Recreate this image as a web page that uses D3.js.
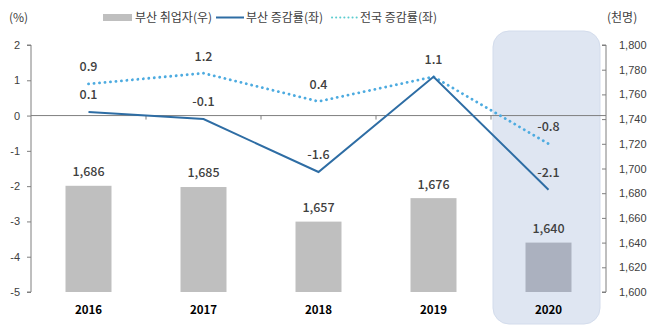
<!DOCTYPE html>
<html><head><meta charset="utf-8">
<script src="https://cdn.jsdelivr.net/npm/d3@7"></script>
<style>body{margin:0;background:#fff}svg{display:block;font-family:"Noto Sans CJK KR","Open Sans",sans-serif}</style>
</head><body>
<script>
const years = ["2016","2017","2018","2019","2020"];
const employed = [1686,1685,1657,1676,1640];
const busanRate = [0.1,-0.1,-1.6,1.1,-2.1];
const nationRate = [0.9,1.2,0.4,1.1,-0.8];
const leftTicks = [2,1,0,-1,-2,-3,-4,-5];
const rightTicks = [1800,1780,1760,1740,1720,1700,1680,1660,1640,1620,1600];
const legendLabels = ["부산 취업자(우)","부산 증감률(좌)","전국 증감률(좌)"];
const highlightYear = "2020";

const W=658,H=327;
const svg=d3.select("body").append("svg").attr("width",W).attr("height",H);
const L=31,R=606,T=45,B=292;
const x=d3.scaleBand().domain(years).range([L,R]).paddingInner(0.6).paddingOuter(0.3);
const xs=d3.scaleBand().domain(years).range([L,R]);
const yL=d3.scaleLinear().domain([-5,2]).range([B,T]);
const yR=d3.scaleLinear().domain([1600,1800]).range([B,T]);
const cx=d=>xs(d)+xs.bandwidth()/2;

// highlight
svg.append("rect").attr("x",xs(highlightYear)+2).attr("y",31).attr("width",xs.bandwidth()-8).attr("height",293)
  .attr("rx",16).attr("fill","#dfe6f2").attr("stroke","#d3dcec").attr("stroke-width",1);

// bars
svg.selectAll(".bar").data(years).join("rect")
  .attr("x",d=>x(d)).attr("width",x.bandwidth())
  .attr("y",(d,i)=>yR(employed[i])).attr("height",(d,i)=>yR(1600)-yR(employed[i]))
  .attr("fill",d=>d===highlightYear?"#abb1bf":"#bfbfbf");

// zero line with tick marks
svg.append("line").attr("x1",L).attr("x2",R).attr("y1",yL(0)).attr("y2",yL(0)).attr("stroke","#7f7f7f").attr("stroke-width",1);
svg.selectAll(".zt").data(years.slice(1)).join("line")
  .attr("x1",d=>xs(d)).attr("x2",d=>xs(d)).attr("y1",yL(0)).attr("y2",yL(0)+4).attr("stroke","#7f7f7f");

// left axis
const ga=svg.append("g").attr("transform",`translate(${L},0)`)
  .call(d3.axisLeft(yL).tickValues(leftTicks).tickSize(4).tickPadding(7).tickFormat(d=>String(d)));
ga.select(".domain").attr("stroke","#7f7f7f").attr("d",`M-4,${T}H0V${B}H-4`);
ga.selectAll(".tick line").attr("stroke","#7f7f7f");
ga.selectAll("text").attr("fill","#404040").attr("font-size",11);

// right axis
const gr=svg.append("g").attr("transform",`translate(${R},0)`)
  .call(d3.axisRight(yR).tickValues(rightTicks).tickSize(-4).tickPadding(13).tickFormat(d3.format(",")));
gr.select(".domain").attr("stroke","#7f7f7f").attr("d",`M-4,${T}H0V${B}H-4`);
gr.selectAll(".tick line").attr("stroke","#7f7f7f");
gr.selectAll("text").attr("fill","#404040").attr("font-size",11);

// lines
const lineB=d3.line().x((d,i)=>cx(years[i])).y(d=>yL(d));
svg.append("path").attr("d",lineB(nationRate)).attr("fill","none").attr("stroke","#4dabe0")
  .attr("stroke-width",2.8).attr("stroke-dasharray","0.1,5.4").attr("stroke-linecap","round");
svg.append("path").attr("d",lineB(busanRate)).attr("fill","none").attr("stroke","#2e6da4").attr("stroke-width",2);

// labels
const lab=svg.append("g").attr("font-size",12.5).attr("font-weight",500).attr("fill","#404040").attr("text-anchor","middle");
busanRate.forEach((v,i)=>{
  lab.append("text").attr("x",cx(years[i])).attr("y",yL(v)-17).attr("dy","0.35em").text(v.toFixed(1));
});
nationRate.forEach((v,i)=>{
  if(v===busanRate[i]) return;
  lab.append("text").attr("x",cx(years[i])).attr("y",yL(v)-17).attr("dy","0.35em").text(v.toFixed(1));
});
employed.forEach((v,i)=>{
  lab.append("text").attr("x",cx(years[i])).attr("y",yR(v)-14).attr("dy","0.35em").text(d3.format(",")(v));
});
svg.append("g").attr("font-size",11.5).attr("font-weight",700).attr("fill","#000").attr("text-anchor","middle")
  .selectAll("text").data(years).join("text").attr("x",d=>cx(d)).attr("y",310).attr("dy","0.35em").text(d=>d);

// legend + units
const lg=svg.append("g").attr("font-size",12).attr("fill","#404040");
lg.append("text").attr("x",9).attr("y",22).text("(%)");
lg.append("text").attr("x",607).attr("y",22).text("(천명)");
lg.append("rect").attr("x",103).attr("y",14).attr("width",29).attr("height",7).attr("fill","#bfbfbf");
lg.append("text").attr("x",135).attr("y",22).text(legendLabels[0]);
lg.append("line").attr("x1",216).attr("x2",244).attr("y1",17.5).attr("y2",17.5).attr("stroke","#2e6da4").attr("stroke-width",2);
lg.append("text").attr("x",246).attr("y",22).text(legendLabels[1]);
lg.append("line").attr("x1",332).attr("x2",357).attr("y1",17.5).attr("y2",17.5).attr("stroke","#5ccccf").attr("stroke-width",2)
  .attr("stroke-dasharray","0.1,4").attr("stroke-linecap","round");
lg.append("text").attr("x",360).attr("y",22).text(legendLabels[2]);
</script>
</body></html>
